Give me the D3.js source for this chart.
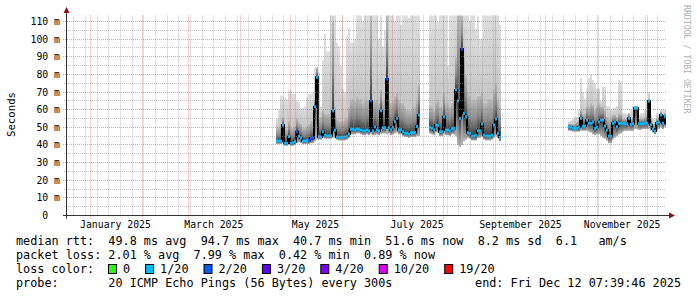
<!DOCTYPE html>
<html>
<head>
<meta charset="utf-8">
<script src="https://cdn.jsdelivr.net/npm/d3@7"></script>
<style>
body { margin: 0; background: #fff; }
text { font-family: "DejaVu Sans Mono", monospace; fill: #000; white-space: pre; }
</style>
</head>
<body>
<script>
// ---- data ----
const endTime = new Date(Date.UTC(2025, 11, 12, 7, 39, 46));
const spanDays = 360;
const stepDays = 1.2;

const yMajor = [0, 10, 20, 30, 40, 50, 60, 70, 80, 90, 100, 110];
const yLabels = ["0  ", "10 m", "20 m", "30 m", "40 m", "50 m", "60 m", "70 m", "80 m", "90 m", "100 m", "110 m"];
const yMinor = [5, 15, 25, 35, 45, 55, 65, 75, 85, 95, 105];
const monthLabels = ["January 2025", "March 2025", "May 2025", "July 2025", "September 2025", "November 2025"];
const monthLabelDates = ["2025-01-16", "2025-03-16", "2025-05-16", "2025-07-16", "2025-09-16", "2025-11-16"];

// segment 1
const seg1Start = "2025-04-22T07:39:46Z";
const med1 = [42.2,42.2,42.2,51.3,41.0,40.9,44.7,41.0,41.2,42.0,
  47.5,45.0,44.0,42.2,42.2,42.5,42.5,43.8,43.8,61.7,
  78.4,44.7,44.5,47.5,45.5,45.2,45.2,45.2,59.3,48.4,
  44.5,44.3,44.3,44.3,44.5,45.0,46.2,48.9,48.9,48.5,
  49.0,48.9,48.5,48.0,48.0,48.5,48.0,64.9,48.0,50.2,
  48.5,48.0,59.3,49.7,49.7,77.4,49.7,48.6,50.0,53.2,
  55.1,48.6,48.6,47.5,46.7,46.7,46.2,47.0,47.0,47.0,
  50.4,57.0];
const lo1 = [40.5,40.5,40.5,41,39.5,39.5,40.5,39.5,39.5,40,
  41,41.5,41,40.5,40.5,40.5,40.5,41,41,42,
  43,43,43,44,43.5,43.5,43.5,43.5,44,44,
  43,42.5,42.5,42.5,42.5,43,44,46,46,46,
  46.5,46.5,46,45.5,45.5,46,45.5,46,45.5,45.5,
  46,45.5,46,46.5,46.5,46,46.5,45.5,46,46.5,
  47,46,46,45,44.5,44.5,44,44.5,44.5,44.5,
  45,45];
const q31 = [50,50,52,56,49,49,54,50,50,51,
  55,53,52,50,50,51,52,54,54,66,
  84,56,56,60,58,58,58,60,110,62,
  55,54,54,54,55,56,62,66,66,65,
  68,66,66,64,65,66,65,114,65,66,
  66,64,72,65,66,114,66,64,65,68,
  70,66,64,64,62,60,60,60,62,62,
  66,75];
const hi1 = [55,60,68,68,67,66,71,71,69,69,
  65,64,61,61,62,67,69,69,70,84,
  84,81,62,88,103,93,93,114,114,114,
  98,96,85,72,70,102,106,98,98,100,
  114,114,114,110,114,114,114,114,114,114,
  114,100,114,96,105,114,114,114,114,110,
  114,114,108,114,114,114,112,114,114,114,
  114,114];
const loss1 = [1,1,1,1,1,1,1,1,1,1, 2,1,1,1,1,1,2,2,2,1,
  1,1,1,1,1,1,1,1,1,1, 1,1,1,1,1,1,1,1,1,1,
  1,1,1,1,1,1,1,2,1,1, 1,1,1,1,1,2,1,1,1,1,
  1,1,1,1,1,1,1,1,1,1, 1,1];

// segment 2
const seg2Start = "2025-07-23T02:51:46Z";
const med2 = [50,49.5,48.5,51.3,51,47.5,47.5,56,48.5,48.5,
  48,49.4,49.4,71.2,65,55.1,94.4,58,56,47,
  46.6,45,45,45.5,48,48,51.9,45.6,45,45,
  45,45.5,51.3,54.7,46.6,44.3];
const lo2 = [46.5,46,45.5,47,47,45,45,46,45.5,45.5,
  45,46,46,45,40,39,40,42,43,44,
  43.5,42.5,42.5,42.5,44,44,44.5,43,42.5,42.5,
  42.5,43,44,45,44,42];
const q32 = [62,62,60,64,66,62,62,70,64,64,
  62,64,66,90,114,114,114,90,80,70,
  68,66,66,66,68,68,70,64,64,66,
  66,66,72,75,66,62];
const hi2 = [114,114,114,114,110,114,114,114,114,85,
  114,114,114,114,114,114,114,114,114,114,
  110,114,114,106,114,100,100,114,114,114,
  114,114,114,114,114,108];
const loss2 = [1,1,1,1,1,1,1,1,1,1, 1,1,1,1,1,1,2,1,1,1,
  1,1,1,1,1,1,1,1,1,1, 1,1,1,1,1,1];

// segment 3
const seg3Start = "2025-10-14T12:27:46Z";
const med3 = [50.3,50,49.4,49.4,49.4,50,55.1,50.7,50.7,54.1,
  52.3,52.3,53,49.4,50,53,54.1,54.1,50.7,48.5,
  45,45,52.3,53,50.3,52.3,52.3,52,52,52,
  55.1,51.5,52,60.8,60.8,52,52,52,52.3,52.3,
  64.9,51.5,49,47.9,52.3,53,57,52.3,56.3,52];
const lo3 = [48,48,47.5,47.5,47.5,47.5,48,48,48,48,
  47.5,47,46,45.5,46,46,45,44,43.5,42.5,
  41,41,43,44,45,46,46.5,47.5,48,48,
  48,48,48,49,49,48.5,48.5,49,49,49,
  49,48,47,46,48,49,50,49,50,49.5];
const q33 = [52,52,52,52,53,54,60,58,58,62,
  62,64,63,60,62,64,62,62,60,56,
  55,56,57,57,56,58,58,55,55,55,
  58,55,56,62,62,55,55,55,56,57,
  66,55,52,52,55,56,59,55,58,55];
const hi3 = [53,54,55,56,56,60,78,70,66,72,
  78,80,77,75,72,72,65,73,73,62,
  62,60,61,61,62,77,76,58,58,58,
  58,60,62,62,62,57,58,58,60,65,
  70,57,55,55,58,58,60,60,60,58];
const loss3 = [1,1,1,1,1,1,1,1,1,1, 1,1,1,1,1,1,1,1,1,1,
  1,1,1,1,1,1,1,1,1,1, 1,1,1,1,1,1,1,1,1,1,
  1,1,1,1,1,1,1,1,1,1];

const lossNames = ["0", "1/20", "2/20", "3/20", "4/20", "10/20", "19/20"];
const lossColors = ["#26ff00", "#00b8ff", "#0059ff", "#5e00ff", "#7e00ff", "#dd00ff", "#ff0000"];

const legendLines = [
  "median rtt:  49.8 ms avg  94.7 ms max  40.7 ms min  51.6 ms now  8.2 ms sd  6.1   am/s",
  "packet loss: 2.01 % avg  7.99 % max  0.42 % min  0.89 % now"
];
const probeText = "probe:       20 ICMP Echo Pings (56 Bytes) every 300s";
const endText = "end: Fri Dec 12 07:39:46 2025";

// ---- drawing ----
const W = 697, H = 297;
const pLeft = 66, pRight = 666, pTop = 15.5, pBottom = 215.5;
const dayMs = 86400000;
const startTime = new Date(endTime.getTime() - spanDays * dayMs);
const stepMs = stepDays * dayMs;

const svg = d3.select("body").append("svg")
  .attr("width", W).attr("height", H)
  .style("display", "block");

svg.append("rect").attr("width", W).attr("height", H).attr("fill", "#fff");

const x = d3.scaleUtc().domain([startTime, endTime]).range([pLeft, pRight]);
const y = d3.scaleLinear().domain([0, 113.4]).range([pBottom, pTop]);

const defs = svg.append("defs");
defs.append("clipPath").attr("id", "plot")
  .append("rect").attr("x", pLeft).attr("y", pTop).attr("width", pRight - pLeft).attr("height", pBottom - pTop);

function grad(id, stops) {
  const g = defs.append("linearGradient").attr("id", id)
    .attr("x1", 0).attr("y1", 0).attr("x2", 0).attr("y2", 1);
  stops.forEach(s => g.append("stop").attr("offset", s[0]).attr("stop-color", s[1]));
}
grad("gTop", [[0, "#dedede"], [1, "#c6c6c6"]]);
grad("gUp", [[0, "#bcbcbc"], [0.55, "#8a8a8a"], [1, "#3a3a3a"]]);
grad("gDown", [[0, "#3a3a3a"], [1, "#b4b4b4"]]);

const crisp = v => Math.floor(v) + 0.5;

const plot = svg.append("g").attr("clip-path", "url(#plot)");

function drawSegment(start, med, lo, q3, hi, loss) {
  const t0 = new Date(start).getTime();
  const pts = med.map((m, i) => ({
    t: new Date(t0 + i * stepMs), t1: new Date(t0 + (i + 1) * stepMs),
    med: m, lo: lo[i], q3: q3[i], hi: hi[i], loss: loss[i]
  }));
  const g = plot.append("g");
  const band = (key0, key1, fill) => g.append("g").selectAll("rect").data(pts).enter().append("rect")
    .attr("x", d => x(d.t))
    .attr("width", d => x(d.t1) - x(d.t))
    .attr("y", d => y(d[key1]))
    .attr("height", d => Math.max(0, y(d[key0]) - y(d[key1])))
    .attr("fill", fill);
  band("q3", "hi", "url(#gTop)");
  band("med", "q3", "url(#gUp)");
  band("lo", "med", "url(#gDown)");
  return pts;
}

const segs = [
  drawSegment(seg1Start, med1, lo1, q31, hi1, loss1),
  drawSegment(seg2Start, med2, lo2, q32, hi2, loss2),
  drawSegment(seg3Start, med3, lo3, q33, hi3, loss3)
];

// grid
const grid = svg.append("g");
const weeks = d3.utcSunday.range(startTime, endTime);
const months = d3.utcMonth.range(startTime, endTime);
grid.selectAll(".vmin").data(weeks).enter().append("line")
  .attr("x1", d => crisp(x(d))).attr("x2", d => crisp(x(d)))
  .attr("y1", pTop).attr("y2", pBottom)
  .attr("stroke", "rgba(140,140,140,0.5)").attr("stroke-dasharray", "1,1");
grid.selectAll(".hmin").data(yMinor).enter().append("line")
  .attr("x1", pLeft - 2).attr("x2", pRight)
  .attr("y1", d => crisp(y(d))).attr("y2", d => crisp(y(d)))
  .attr("stroke", "rgba(140,140,140,0.5)").attr("stroke-dasharray", "1,1");
grid.selectAll(".vmaj").data(months).enter().append("line")
  .attr("x1", d => crisp(x(d))).attr("x2", d => crisp(x(d)))
  .attr("y1", pTop).attr("y2", pBottom + 3)
  .attr("stroke", "rgba(222,80,80,0.55)").attr("stroke-dasharray", "1,1");
grid.selectAll(".hmaj").data(yMajor.slice(1)).enter().append("line")
  .attr("x1", pLeft - 3).attr("x2", pRight)
  .attr("y1", d => crisp(y(d))).attr("y2", d => crisp(y(d)))
  .attr("stroke", "rgba(222,80,80,0.55)").attr("stroke-dasharray", "1,1");

// median line and loss colours
const medLine = d3.line().x(d => d[0]).y(d => d[1]).curve(d3.curveStepAfter);
segs.forEach(pts => {
  const arr = pts.map(d => [x(d.t), y(d.med)]);
  arr.push([x(pts[pts.length - 1].t1), y(pts[pts.length - 1].med)]);
  plot.append("path").attr("d", medLine(arr))
    .attr("fill", "none").attr("stroke", "#000").attr("stroke-width", 2);
  plot.append("g").selectAll("rect").data(pts).enter().append("rect")
    .attr("x", d => x(d.t))
    .attr("width", d => x(d.t1) - x(d.t))
    .attr("y", d => y(d.med) - 1.5)
    .attr("height", 3)
    .attr("fill", d => lossColors[d.loss]);
});

// axes
const axisCol = "#333";
const arrowCol = "#8b1010";
svg.append("line").attr("x1", 66.5).attr("x2", 66.5).attr("y1", pBottom + 3).attr("y2", 11)
  .attr("stroke", axisCol);
svg.append("line").attr("x1", pLeft - 3).attr("x2", 670).attr("y1", pBottom).attr("y2", pBottom)
  .attr("stroke", axisCol);
svg.append("path").attr("d", "M63.5,13 L66.5,7 L69.5,13 Z").attr("fill", arrowCol);
svg.append("path").attr("d", "M669,212.5 L675,215.5 L669,218.5 Z").attr("fill", arrowCol);

// y labels
svg.append("g").selectAll("text").data(yMajor).enter().append("text")
  .attr("x", 60).attr("y", d => y(d) + 3.5)
  .attr("text-anchor", "end")
  .style("font-size", "9.8px")
  .text((d, i) => yLabels[i]);

// x labels
svg.append("g").selectAll("text").data(monthLabelDates).enter().append("text")
  .attr("x", d => x(new Date(d + "T00:00:00Z")))
  .attr("y", 228)
  .attr("text-anchor", "middle")
  .style("font-size", "9.8px")
  .text((d, i) => monthLabels[i]);

// unit label
svg.append("text")
  .attr("transform", "translate(14.5,114.5) rotate(-90)")
  .attr("text-anchor", "middle")
  .style("font-size", "10.7px")
  .text("Seconds");

// watermark
svg.append("text")
  .attr("transform", "translate(683.5,5) rotate(90)")
  .style("font-size", "8.2px")
  .style("fill", "#b0b0b0")
  .text("RRDTOOL / TOBI OETIKER");

// legend
const charW = 7.1;
const lg = svg.append("g").style("font-size", "11.8px");
lg.selectAll(".ll").data(legendLines).enter().append("text")
  .attr("x", 16).attr("y", (d, i) => 245 + i * 14)
  .text(d => d);
lg.append("text").attr("x", 16).attr("y", 273).text("loss color:");
let bx = 108;
lossNames.forEach((name, i) => {
  lg.append("rect").attr("x", bx + 0.5).attr("y", 264.5).attr("width", 8).attr("height", 9)
    .attr("fill", lossColors[i]).attr("stroke", "#000");
  lg.append("text").attr("x", bx + 15).attr("y", 273).text(name);
  bx += 15 + name.length * charW + 15;
});
lg.append("text").attr("x", 16).attr("y", 287).text(probeText);
lg.append("text").attr("x", 681).attr("y", 287).attr("text-anchor", "end").text(endText);
</script>
</body>
</html>
